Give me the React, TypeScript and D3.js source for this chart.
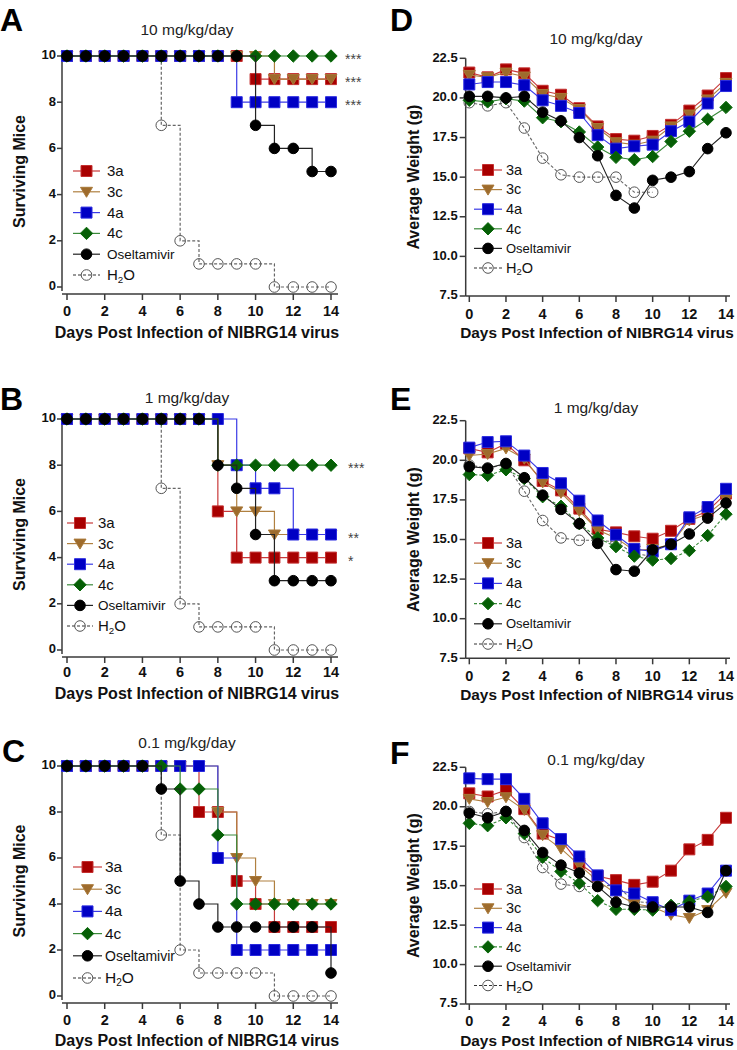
import React from 'react';
import * as d3 from 'd3';

// ---------- data ----------
const DAYS = [0, 1, 2, 3, 4, 5, 6, 7, 8, 9, 10, 11, 12, 13, 14];
const DAY_TICKS = [0, 2, 4, 6, 8, 10, 12, 14];
const SURV_TICKS = [0, 2, 4, 6, 8, 10];
const WEIGHT_TICKS = [7.5, 10, 12.5, 15, 17.5, 20, 22.5];
const SERIES = ['3a', '3c', '4a', '4c', 'Oseltamivir', 'H2O'];
const DRAW_ORDER = [5, 0, 1, 2, 3, 4];
const DOSES = ['10 mg/kg/day', '1 mg/kg/day', '0.1 mg/kg/day'];
const X_TITLE = 'Days Post Infection of NIBRG14 virus';

// Survival, 10 mg/kg/day
const survA_3a = [10, 10, 10, 10, 10, 10, 10, 10, 10, 10, 9, 9, 9, 9, 9];
const survA_3c = [10, 10, 10, 10, 10, 10, 10, 10, 10, 10, 10, 9, 9, 9, 9];
const survA_4a = [10, 10, 10, 10, 10, 10, 10, 10, 10, 8, 8, 8, 8, 8, 8];
const survA_4c = [10, 10, 10, 10, 10, 10, 10, 10, 10, 10, 10, 10, 10, 10, 10];
const survA_osel = [10, 10, 10, 10, 10, 10, 10, 10, 10, 10, 7, 6, 6, 5, 5];
const survA_h2o = [10, 10, 10, 10, 10, 7, 2, 1, 1, 1, 1, 0, 0, 0, 0];
const starsA = [{ v: 10, t: '***' }, { v: 9, t: '***' }, { v: 8, t: '***' }];

// Survival, 1 mg/kg/day
const survB_3a = [10, 10, 10, 10, 10, 10, 10, 10, 6, 4, 4, 4, 4, 4, 4];
const survB_3c = [10, 10, 10, 10, 10, 10, 10, 10, 8, 6, 6, 5, 5, 5, 5];
const survB_4a = [10, 10, 10, 10, 10, 10, 10, 10, 10, 8, 7, 7, 5, 5, 5];
const survB_4c = [10, 10, 10, 10, 10, 10, 10, 10, 8, 8, 8, 8, 8, 8, 8];
const survB_osel = [10, 10, 10, 10, 10, 10, 10, 10, 8, 7, 5, 3, 3, 3, 3];
const survB_h2o = [10, 10, 10, 10, 10, 7, 2, 1, 1, 1, 1, 0, 0, 0, 0];
const starsB = [{ v: 8, t: '***' }, { v: 5, t: '**' }, { v: 4, t: '*' }];

// Survival, 0.1 mg/kg/day
const survC_3a = [10, 10, 10, 10, 10, 10, 10, 8, 8, 5, 4, 3, 3, 3, 3];
const survC_3c = [10, 10, 10, 10, 10, 10, 10, 10, 8, 6, 5, 4, 4, 4, 4];
const survC_4a = [10, 10, 10, 10, 10, 10, 10, 10, 6, 2, 2, 2, 2, 2, 2];
const survC_4c = [10, 10, 10, 10, 10, 10, 9, 9, 7, 4, 4, 4, 4, 4, 4];
const survC_osel = [10, 10, 10, 10, 10, 9, 5, 4, 3, 3, 3, 3, 3, 3, 1];
const survC_h2o = [10, 10, 10, 10, 10, 7, 2, 1, 1, 1, 1, 0, 0, 0, 0];

// Weight, 10 mg/kg/day
const wtD_3a = [21.6, 21.3, 21.8, 21.55, 20.45, 20.2, 19.35, 18.2, 17.4, 17.3, 17.6, 18.3, 19.2, 20.15, 21.25];
const wtD_3c = [21.45, 21.3, 21.6, 21.35, 20.25, 20.0, 19.3, 18.1, 17.2, 17.05, 17.3, 18.2, 18.95, 19.9, 20.95];
const wtD_4a = [20.85, 21.0, 21.0, 20.8, 19.85, 19.5, 19.05, 17.65, 16.8, 16.95, 17.05, 17.9, 18.5, 19.65, 20.75];
const wtD_4c = [19.85, 19.75, 19.95, 19.8, 18.75, 18.5, 17.85, 16.9, 16.25, 16.1, 16.3, 17.25, 17.9, 18.65, 19.4];
const wtD_osel = [20.1, 20.1, 20.0, 20.1, 19.1, 18.55, 17.5, 16.35, 13.85, 13.05, 14.8, 15.0, 15.35, 16.8, 17.8];
const wtD_h2o = [19.7, 19.5, 19.7, 18.1, 16.2, 15.15, 15.0, 15.0, 15.0, 14.05, 14.05];

// Weight, 1 mg/kg/day
const wtE_3a = [20.75, 20.5, 21.05, 20.0, 18.7, 18.1, 16.95, 15.65, 15.45, 15.2, 15.05, 15.55, 16.3, 16.8, 17.9];
const wtE_3c = [20.3, 20.4, 20.75, 20.1, 18.6, 17.95, 16.8, 15.6, 15.1, 14.3, 14.4, 14.7, 16.2, 16.6, 17.55];
const wtE_4a = [20.8, 21.15, 21.2, 20.3, 19.2, 18.55, 17.45, 16.2, 15.3, 14.4, 14.25, 14.7, 16.4, 17.05, 18.2];
const wtE_4c = [19.1, 19.05, 19.4, 18.85, 17.7, 17.1, 16.0, 15.1, 14.55, 13.95, 13.7, 13.8, 14.3, 15.25, 16.6];
const wtE_osel = [19.6, 19.5, 19.8, 18.9, 17.8, 16.9, 16.0, 14.75, 13.1, 13.0, 14.35, 14.7, 15.35, 16.35, 17.3];
const wtE_h2o = [19.7, 19.5, 19.75, 18.05, 16.2, 15.1, 14.95, 14.95, 14.85, 14.1, 13.95];

// Weight, 0.1 mg/kg/day
const wtF_3a = [20.85, 20.65, 21.05, 19.85, 18.3, 17.9, 16.4, 15.6, 15.35, 15.05, 15.25, 15.95, 17.3, 17.9, 19.3];
const wtF_3c = [20.5, 20.3, 20.6, 19.8, 18.2, 17.35, 16.3, 15.3, 14.5, 13.85, 13.65, 13.15, 12.95, 13.45, 14.55];
const wtF_4a = [21.8, 21.75, 21.75, 20.5, 18.95, 17.95, 16.85, 15.65, 14.7, 14.5, 13.95, 13.45, 14.05, 14.5, 15.95];
const wtF_4c = [18.95, 18.8, 19.3, 18.3, 16.8, 15.9, 15.15, 14.05, 13.5, 13.5, 13.45, 13.75, 14.0, 14.3, 14.95];
const wtF_osel = [19.6, 19.3, 19.7, 18.5, 17.1, 16.3, 15.8, 14.95, 13.95, 13.65, 13.65, 13.65, 13.65, 13.3, 15.95];
const wtF_h2o = [19.7, 19.55, 19.7, 18.05, 16.15, 15.1, 14.95, 14.95, 15.05, 14.0, 13.9];

// ---------- styles ----------
const FONT = "'Liberation Sans', Arial, Helvetica, sans-serif";
const AXIS = '#3a3a3a';
type Style = { shape: string; fill: string; stroke: string; line: string };
const STYLE: Record<string, Style> = {
  '3a': { shape: 'square', fill: '#A80000', stroke: '#C43030', line: '#C83A3A' },
  '3c': { shape: 'tri', fill: '#9E6B2C', stroke: '#A87838', line: '#B08040' },
  '4a': { shape: 'square', fill: '#0000C4', stroke: '#2A2AE0', line: '#3A3AE6' },
  '4c': { shape: 'diamond', fill: '#065E06', stroke: '#0A6A0A', line: '#3A8A3A' },
  Oseltamivir: { shape: 'circle', fill: '#000000', stroke: '#000000', line: '#222222' },
  H2O: { shape: 'open', fill: 'none', stroke: '#555555', line: '#777777' },
};

function markerPath(shape: string): string {
  switch (shape) {
    case 'square':
      return 'M-5.5,-5.5H5.5V5.5H-5.5Z';
    case 'tri':
      return 'M-6,-4.5L6,-4.5L0,5.5Z';
    case 'diamond':
      return 'M0,-6.2L6.2,0L0,6.2L-6.2,0Z';
    default:
      return d3.symbol().type(d3.symbolCircle).size(Math.PI * 5.3 * 5.3)() as string;
  }
}

function Marker({ name, x, y }: { name: string; x: number; y: number }) {
  const s = STYLE[name];
  return (
    <path
      d={markerPath(s.shape)}
      transform={`translate(${x},${y})`}
      fill={s.fill}
      stroke={s.stroke}
      strokeWidth={1}
    />
  );
}

function LegendLabel({ name, x, y, size }: { name: string; x: number; y: number; size: number }) {
  if (name === 'H2O') {
    return (
      <text x={x} y={y} fontSize={size} fontFamily={FONT} fill="#111" dominantBaseline="middle">
        <tspan>H</tspan>
        <tspan fontSize={size * 0.65} dy={4}>2</tspan>
        <tspan dy={-4}>O</tspan>
      </text>
    );
  }
  const fs = name === 'Oseltamivir' ? size - 1.5 : size;
  return (
    <text x={x} y={y} fontSize={fs} fontFamily={FONT} fill="#111" dominantBaseline="middle">
      {name}
    </text>
  );
}

type LegendCfg = { y0: number; dy: number; x1: number; x2: number; tx: number; size: number };

function Legend({ cfg, dashed4c }: { cfg: LegendCfg; dashed4c: boolean }) {
  return (
    <g>
      {SERIES.map((n, i) => {
        const y = cfg.y0 + i * cfg.dy;
        const s = STYLE[n];
        const dash = n === 'H2O' ? '3,2' : n === '4c' && dashed4c ? '3,2' : undefined;
        return (
          <g key={n}>
            <line x1={cfg.x1} x2={cfg.x2} y1={y} y2={y} stroke={n === 'H2O' ? '#333' : s.line} strokeWidth={1.2} strokeDasharray={dash} />
            <Marker name={n} x={(cfg.x1 + cfg.x2) / 2} y={y} />
            <LegendLabel name={n} x={cfg.tx} y={y + 1} size={cfg.size} />
          </g>
        );
      })}
    </g>
  );
}

type SurvPanel = {
  letter: string; title: string; data: number[][]; stars: { v: number; t: string }[];
  y10: number; y0: number; axisY: number; tickY: number; xTitleY: number; titleY: number; letterY: number; letterX: number;
  legend: LegendCfg; starX: number;
};

function Survival({ p }: { p: SurvPanel }) {
  const x = d3.scaleLinear().domain([0, 14]).range([67, 331]);
  const y = d3.scaleLinear().domain([0, 10]).range([p.y0, p.y10]);
  const line = d3.line<number>().x((_, i) => x(DAYS[i])).y((d) => y(d)).curve(d3.curveStepAfter);
  const axisX = 62;
  return (
    <g>
      <text x={p.letterX} y={p.letterY} fontSize={32} fontWeight="bold" fontFamily={FONT} fill="#000">{p.letter}</text>
      <text x={187} y={p.titleY} fontSize={15.5} fontFamily={FONT} fill="#222" textAnchor="middle">{p.title}</text>
      {/* y axis */}
      <line x1={axisX} x2={axisX} y1={p.y10 - 4} y2={p.y0 + 4} stroke={AXIS} strokeWidth={1.5} />
      {SURV_TICKS.map((t) => (
        <g key={t}>
          <line x1={axisX - 5} x2={axisX} y1={y(t)} y2={y(t)} stroke={AXIS} strokeWidth={1.5} />
          <text x={axisX - 6} y={y(t)} fontSize={13} fontWeight="bold" fontFamily={FONT} textAnchor="end" dominantBaseline="middle" fill="#111">{t}</text>
        </g>
      ))}
      {/* x axis */}
      <line x1={axisX} x2={338} y1={p.axisY} y2={p.axisY} stroke={AXIS} strokeWidth={1.5} />
      {DAY_TICKS.map((t) => (
        <g key={t}>
          <line x1={x(t)} x2={x(t)} y1={p.axisY} y2={p.axisY + 6} stroke={AXIS} strokeWidth={1.5} />
          <text x={x(t)} y={p.tickY} fontSize={14.5} fontWeight="bold" fontFamily={FONT} textAnchor="middle" fill="#111">{t}</text>
        </g>
      ))}
      <text x={197} y={p.xTitleY} fontSize={16} fontWeight="bold" fontFamily={FONT} textAnchor="middle" fill="#111">{X_TITLE}</text>
      <text transform={`translate(25,${(p.y0 + p.y10) / 2}) rotate(-90)`} fontSize={16} fontWeight="bold" fontFamily={FONT} textAnchor="middle" fill="#111">Surviving Mice</text>
      {/* series */}
      {DRAW_ORDER.map((si) => {
        const n = SERIES[si];
        const vals = p.data[si];
        const s = STYLE[n];
        return (
          <g key={n}>
            <path d={line(vals) as string} fill="none" stroke={n === 'H2O' ? '#666' : s.line} strokeWidth={1.2} strokeDasharray={n === 'H2O' ? '3,2' : undefined} />
            {vals.map((v, i) => (
              <Marker key={i} name={n} x={x(DAYS[i])} y={y(v)} />
            ))}
          </g>
        );
      })}
      {p.stars.map((s, i) => (
        <text key={i} x={p.starX} y={y(s.v) + 8} fontSize={14} fontFamily={FONT} fill="#444">{s.t}</text>
      ))}
      <Legend cfg={p.legend} dashed4c={false} />
    </g>
  );
}

type WtPanel = {
  letter: string; title: string; data: number[][]; dashed4c: boolean;
  yTop: number; yBot: number; tickY: number; xTitleY: number; titleY: number; letterY: number; legend: LegendCfg;
};

function Weight({ p }: { p: WtPanel }) {
  const x = d3.scaleLinear().domain([0, 14]).range([469.3, 726]);
  const y = d3.scaleLinear().domain([7.5, 22.5]).range([p.yBot, p.yTop]);
  const line = d3.line<number>().x((_, i) => x(DAYS[i])).y((d) => y(d));
  const axisX = 465.7;
  return (
    <g>
      <text x={390} y={p.letterY} fontSize={32} fontWeight="bold" fontFamily={FONT} fill="#000">{p.letter}</text>
      <text x={596} y={p.titleY} fontSize={15.5} fontFamily={FONT} fill="#222" textAnchor="middle">{p.title}</text>
      <line x1={axisX} x2={axisX} y1={p.yTop} y2={p.yBot} stroke={AXIS} strokeWidth={1.5} />
      {WEIGHT_TICKS.map((t) => (
        <g key={t}>
          <line x1={axisX - 6} x2={axisX} y1={y(t)} y2={y(t)} stroke={AXIS} strokeWidth={1.5} />
          <text x={axisX - 8} y={y(t)} fontSize={13} fontWeight="bold" fontFamily={FONT} textAnchor="end" dominantBaseline="middle" fill="#111">{t.toFixed(1)}</text>
        </g>
      ))}
      <line x1={axisX} x2={730} y1={p.yBot} y2={p.yBot} stroke={AXIS} strokeWidth={1.5} />
      {DAY_TICKS.map((t) => (
        <g key={t}>
          <line x1={x(t)} x2={x(t)} y1={p.yBot} y2={p.yBot + 6} stroke={AXIS} strokeWidth={1.5} />
          <text x={x(t)} y={p.tickY} fontSize={14.5} fontWeight="bold" fontFamily={FONT} textAnchor="middle" fill="#111">{t}</text>
        </g>
      ))}
      <text x={597} y={p.xTitleY} fontSize={15.4} fontWeight="bold" fontFamily={FONT} textAnchor="middle" fill="#111">{X_TITLE}</text>
      <text transform={`translate(419,${(p.yTop + p.yBot) / 2}) rotate(-90)`} fontSize={16} fontWeight="bold" fontFamily={FONT} textAnchor="middle" fill="#111">Average Weight (g)</text>
      {DRAW_ORDER.map((si) => {
        const n = SERIES[si];
        const vals = p.data[si];
        const s = STYLE[n];
        const dash = n === 'H2O' ? '3,2' : n === '4c' && p.dashed4c ? '3,2' : undefined;
        return (
          <g key={n}>
            <path d={line(vals) as string} fill="none" stroke={n === 'H2O' ? '#666' : s.line} strokeWidth={1.1} strokeDasharray={dash} />
            {vals.map((v, i) => (
              <Marker key={i} name={n} x={x(DAYS[i])} y={y(v)} />
            ))}
          </g>
        );
      })}
      <Legend cfg={p.legend} dashed4c={p.dashed4c} />
    </g>
  );
}

const survPanels: SurvPanel[] = [
  {
    letter: 'A', title: DOSES[0], data: [survA_3a, survA_3c, survA_4a, survA_4c, survA_osel, survA_h2o], stars: starsA,
    y10: 56, y0: 287, axisY: 294, tickY: 316, xTitleY: 338, titleY: 34.5, letterY: 31, letterX: 0,
    legend: { y0: 171, dy: 20.8, x1: 73, x2: 100, tx: 107, size: 15 }, starX: 345,
  },
  {
    letter: 'B', title: DOSES[1], data: [survB_3a, survB_3c, survB_4a, survB_4c, survB_osel, survB_h2o], stars: starsB,
    y10: 419, y0: 650, axisY: 657, tickY: 677, xTitleY: 699, titleY: 402.5, letterY: 410, letterX: 0,
    legend: { y0: 523, dy: 20.6, x1: 67, x2: 93, tx: 98, size: 15 }, starX: 348,
  },
  {
    letter: 'C', title: DOSES[2], data: [survC_3a, survC_3c, survC_4a, survC_4c, survC_osel, survC_h2o], stars: [],
    y10: 766, y0: 996, axisY: 1003, tickY: 1025, xTitleY: 1046, titleY: 747.5, letterY: 762, letterX: 2,
    legend: { y0: 867, dy: 22.2, x1: 73, x2: 102, tx: 105, size: 15.5 }, starX: 345,
  },
];

const wtPanels: WtPanel[] = [
  {
    letter: 'D', title: DOSES[0], data: [wtD_3a, wtD_3c, wtD_4a, wtD_4c, wtD_osel, wtD_h2o], dashed4c: false,
    yTop: 58.3, yBot: 296, tickY: 318.5, xTitleY: 337.5, titleY: 43.5, letterY: 31,
    legend: { y0: 170, dy: 19.6, x1: 474, x2: 502, tx: 506, size: 14.5 },
  },
  {
    letter: 'E', title: DOSES[1], data: [wtE_3a, wtE_3c, wtE_4a, wtE_4c, wtE_osel, wtE_h2o], dashed4c: true,
    yTop: 420.7, yBot: 658.3, tickY: 681, xTitleY: 700, titleY: 412.5, letterY: 410,
    legend: { y0: 543, dy: 20.2, x1: 474, x2: 502, tx: 506, size: 14.5 },
  },
  {
    letter: 'F', title: DOSES[2], data: [wtF_3a, wtF_3c, wtF_4a, wtF_4c, wtF_osel, wtF_h2o], dashed4c: true,
    yTop: 767.3, yBot: 1004, tickY: 1026, xTitleY: 1046, titleY: 764.5, letterY: 764,
    legend: { y0: 889, dy: 19.3, x1: 474, x2: 502, tx: 506, size: 14.5 },
  },
];

export default function App() {
  return (
    <div style={{ position: 'absolute', left: 0, top: 0, width: 737, height: 1050, background: '#fff' }}>
      <svg width={737} height={1050} viewBox="0 0 737 1050" style={{ display: 'block' }}>
        <rect x={0} y={0} width={737} height={1050} fill="#fff" />
        {survPanels.map((p) => (
          <Survival key={p.letter} p={p} />
        ))}
        {wtPanels.map((p) => (
          <Weight key={p.letter} p={p} />
        ))}
      </svg>
    </div>
  );
}
